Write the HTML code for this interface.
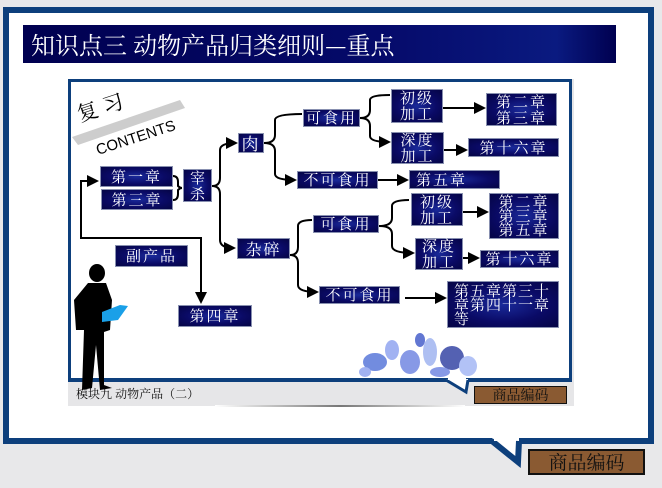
<!DOCTYPE html>
<html><head><meta charset="utf-8"><style>
*{margin:0;padding:0;box-sizing:border-box}
body{width:662px;height:488px;background:#e8e8ea;position:relative;overflow:hidden;font-family:"Liberation Serif","Noto Serif CJK SC",serif}
.a{position:absolute}
.b{position:absolute;background:radial-gradient(ellipse at center,#1a2a9a 0%,#0a0a66 55%,#050545 100%);border:1px solid #8890b0;color:#fff;font-size:15px;line-height:16px;display:flex;align-items:center;justify-content:center;text-align:center;letter-spacing:2px;font-family:"Noto Serif CJK SC",serif}
</style></head><body>
<!-- outer frame -->
<div class="a" style="left:3px;top:7px;width:651px;height:437px;background:#fff;border:6px solid #0d3f7c"></div>
<svg class="a" style="left:0;top:0" width="662" height="488">
<polygon points="492,438 519,438 519,462" fill="#fff"/>
<polyline points="492,441 518,462 519,441" fill="none" stroke="#0d3f7c" stroke-width="6"/>
<rect x="494" y="436" width="22" height="5" fill="#fff"/>
</svg>
<div class="a" style="left:528px;top:449px;width:117px;height:26px;background:#8a5a32;border:2px solid #111;font-size:19px;line-height:22px;text-align:center;color:#111;font-family:'Noto Serif CJK SC',serif">商品编码</div>
<!-- title -->
<div class="a" style="left:23px;top:25px;width:593px;height:38px;background:linear-gradient(90deg,#000050,#050a6a 60%,#0a1a80 90%,#000050);color:#fff;font-size:24px;line-height:38px;padding-left:8px;font-family:'Noto Serif CJK SC',serif">知识点三 动物产品归类细则—重点</div>
<!-- inner image -->
<div class="a" style="left:68px;top:79px;width:506px;height:327px;background:#e6e6e8"></div>
<div class="a" style="left:68px;top:79px;width:504px;height:303px;background:#fff;border:3px solid #0d3f7c;border-bottom-width:4px"></div>
<svg class="a" style="left:0;top:0" width="662" height="488">
<polygon points="446,379 468,379 468,392" fill="#fff"/>
<polyline points="446,380 466,392 468,380" fill="none" stroke="#0d3f7c" stroke-width="3"/>
<rect x="448" y="376" width="18" height="4" fill="#fff"/>
<defs><linearGradient id="g" x1="0" x2="1"><stop offset="0" stop-color="#fff"/><stop offset="0.5" stop-color="#777"/><stop offset="1" stop-color="#fff"/></linearGradient></defs>
<rect x="215" y="405" width="250" height="2" fill="url(#g)"/>
</svg>
<div class="a" style="left:474px;top:386px;width:93px;height:18px;background:#8a5a32;border:1px solid #111;font-size:14px;line-height:16px;text-align:center;color:#111;font-family:'Noto Serif CJK SC',serif">商品编码</div>
<div class="a" style="left:76px;top:385px;font-size:12px;color:#111;font-family:'Noto Serif CJK SC',serif">模块九 动物产品（二）</div>
<!-- contents -->
<svg class="a" style="left:0;top:0" width="662" height="488">
<polygon points="72,137 180,100 185,108 78,145" fill="#b8b8b8" opacity="0.7"/>
<text x="80" y="122" font-size="21" font-family="Noto Serif CJK SC,serif" transform="rotate(-18 80 122)">复 习</text>
<text x="98" y="155" font-size="15" font-family="Liberation Sans,sans-serif" transform="rotate(-18 98 155)">CONTENTS</text>
</svg>
<!-- flowers -->
<svg class="a" style="left:0;top:0" width="662" height="488">
<g opacity="0.8">
<ellipse cx="375" cy="362" rx="12" ry="9" fill="#5070d8"/><ellipse cx="392" cy="350" rx="7" ry="10" fill="#8aa0f0"/>
<ellipse cx="410" cy="362" rx="10" ry="12" fill="#6a80e0"/><ellipse cx="430" cy="352" rx="7" ry="14" fill="#9ab0f0"/>
<ellipse cx="452" cy="358" rx="12" ry="12" fill="#2a3aa0"/><ellipse cx="468" cy="366" rx="9" ry="10" fill="#a0b4f4"/>
<ellipse cx="365" cy="372" rx="6" ry="5" fill="#8aa0f0"/><ellipse cx="420" cy="340" rx="5" ry="7" fill="#3c56c8"/>
<ellipse cx="440" cy="372" rx="10" ry="5" fill="#6a80e0"/>
</g>
</svg>
<!-- person -->
<svg class="a" style="left:0;top:0" width="662" height="488">
<ellipse cx="97" cy="273" rx="8" ry="9" fill="#000"/>
<path d="M88,283 L106,283 L112,300 L110,330 L104,332 L104,385 L112,388 L100,390 L96,345 L92,388 L82,390 L84,330 L76,330 L74,300 Z" fill="#000"/>
<polygon points="102,312 120,305 128,306 118,320 102,322" fill="#1aa0e8"/>
</svg>
<!-- connectors -->
<svg class="a" style="left:0;top:0" width="662" height="488" fill="none" stroke="#000" stroke-width="2">
<defs><marker id="m" markerWidth="6" markerHeight="6" refX="5" refY="3" orient="auto"><path d="M0,0 L6,3 L0,6 Z" fill="#000" stroke="none"/></marker></defs>
<path d="M81,181 L97,181" marker-end="url(#m)"/>
<path d="M81,180 L81,238 L201,238 L201,302" marker-end="url(#m)"/>
<path d="M173,176 Q178,176 178,182 L178,186 Q180,188 182,188 M173,200 Q178,200 178,194 L178,190 Q180,188 182,188"/>
<path d="M212,186 Q220,186 220,178 L220,150 Q220,143 236,143" marker-end="url(#m)"/>
<path d="M212,186 Q220,186 220,194 L220,240 Q220,248 234,248" marker-end="url(#m)"/>
<path d="M264,143 Q275,143 275,135 L275,120 Q275,114 302,114"/>
<path d="M264,143 Q275,143 275,151 L275,174 Q275,180 295,180" marker-end="url(#m)"/>
<path d="M360,118 Q370,118 370,110 L370,100 Q370,95 390,95"/>
<path d="M360,118 Q370,118 370,126 L370,136 Q370,142 389,142" marker-end="url(#m)"/>
<path d="M443,108 L484,108" marker-end="url(#m)"/>
<path d="M444,150 L466,150" marker-end="url(#m)"/>
<path d="M378,180 L407,180" marker-end="url(#m)"/>
<path d="M290,255 Q298,255 298,247 L298,226 Q298,220 312,220"/>
<path d="M290,255 Q298,255 298,263 L298,285 Q298,292 317,292" marker-end="url(#m)"/>
<path d="M379,226 Q392,226 392,218 L392,206 Q392,200 409,200"/>
<path d="M379,226 Q392,226 392,234 L392,246 Q392,253 413,253" marker-end="url(#m)"/>
<path d="M463,212 L487,212" marker-end="url(#m)"/>
<path d="M463,258 L478,258" marker-end="url(#m)"/>
<path d="M405,298 L445,298" marker-end="url(#m)"/>
</svg>
<!-- boxes -->
<div class="b" style="left:100px;top:166px;width:73px;height:21px">第一章</div>
<div class="b" style="left:101px;top:189px;width:72px;height:21px">第三章</div>
<div class="b" style="left:183px;top:169px;width:29px;height:33px;letter-spacing:0">宰<br>杀</div>
<div class="b" style="left:238px;top:133px;width:26px;height:20px;font-size:17px">肉</div>
<div class="b" style="left:237px;top:238px;width:53px;height:21px;font-size:16px">杂碎</div>
<div class="b" style="left:115px;top:245px;width:73px;height:22px">副产品</div>
<div class="b" style="left:178px;top:305px;width:74px;height:22px">第四章</div>
<div class="b" style="left:303px;top:109px;width:57px;height:18px">可食用</div>
<div class="b" style="left:391px;top:89px;width:52px;height:34px">初级<br>加工</div>
<div class="b" style="left:486px;top:93px;width:71px;height:33px">第二章<br>第三章</div>
<div class="b" style="left:391px;top:132px;width:53px;height:32px">深度<br>加工</div>
<div class="b" style="left:468px;top:138px;width:91px;height:19px">第十六章</div>
<div class="b" style="left:297px;top:171px;width:81px;height:18px">不可食用</div>
<div class="b" style="left:409px;top:170px;width:91px;height:19px;justify-content:flex-start;padding-left:6px">第五章</div>
<div class="b" style="left:313px;top:215px;width:66px;height:18px">可食用</div>
<div class="b" style="left:411px;top:193px;width:52px;height:33px">初级<br>加工</div>
<div class="b" style="left:489px;top:193px;width:70px;height:46px;line-height:14px">第二章<br>第三章<br>第五章</div>
<div class="b" style="left:415px;top:238px;width:48px;height:32px">深度<br>加工</div>
<div class="b" style="left:480px;top:250px;width:79px;height:18px">第十六章</div>
<div class="b" style="left:319px;top:286px;width:81px;height:18px">不可食用</div>
<div class="b" style="left:447px;top:281px;width:112px;height:47px;line-height:14px;justify-content:flex-start;text-align:left;padding-left:6px;letter-spacing:1px">第五章第三十<br>章第四十一章<br>等</div>
</body></html>
